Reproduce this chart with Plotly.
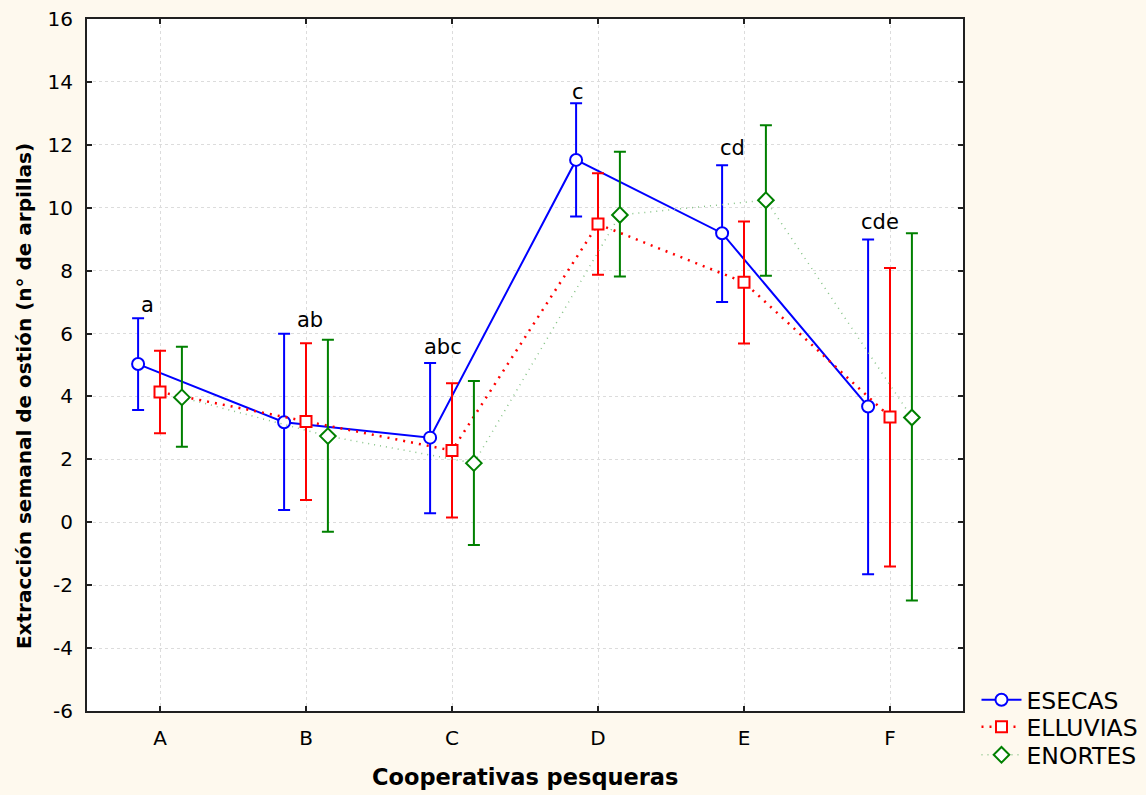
import plotly.graph_objects as go

categories = ["A", "B", "C", "D", "E", "F"]

esecas_mean = [5.03, 3.18, 2.69, 11.52, 9.19, 3.68]
esecas_upper = [6.49, 5.99, 5.06, 13.32, 11.35, 8.99]
esecas_lower = [3.57, 0.39, 0.29, 9.72, 7.00, -1.65]

elluvias_mean = [4.14, 3.20, 2.28, 9.48, 7.63, 3.35]
elluvias_upper = [5.45, 5.69, 4.42, 11.10, 9.56, 8.08]
elluvias_lower = [2.83, 0.71, 0.15, 7.87, 5.68, -1.41]

enortes_mean = [3.97, 2.74, 1.88, 9.77, 10.24, 3.33]
enortes_upper = [5.58, 5.80, 4.49, 11.78, 12.62, 9.19]
enortes_lower = [2.40, -0.30, -0.72, 7.81, 7.84, -2.49]

letters = ["a", "ab", "abc", "c", "cd", "cde"]

y_tickvals = [-6, -4, -2, 0, 2, 4, 6, 8, 10, 12, 14, 16]
y_ticktext = ["-6", "-4", "-2", "0", "2", "4", "6", "8", "10", "12", "14", "16"]

FONT = "DejaVu Sans, Liberation Sans, Arial, sans-serif"

series = [
    ("ESECAS", esecas_mean, esecas_upper, esecas_lower, -0.15,
     dict(color="#0000FF", width=2, dash="solid"), "#0000FF", "circle", 12, "legend"),
    ("ELLUVIAS", elluvias_mean, elluvias_upper, elluvias_lower, 0.0,
     dict(color="#FF0000", width=2.5, dash="2px,6px"), "#FF0000", "square", 11, "legend2"),
    ("ENORTES", enortes_mean, enortes_upper, enortes_lower, 0.15,
     dict(color="#88C488", width=1.5, dash="1px,5px"), "#008000", "diamond", 12, "legend3"),
]

fig = go.Figure()
for name, mean, up, lo, off, line, col, sym, size, leg in series:
    xs = [i + off for i in range(len(categories))]
    fig.add_trace(go.Scatter(
        x=xs, y=mean, name=name, mode="lines+markers", legend=leg,
        line=line,
        marker=dict(symbol=sym, size=size, color="white",
                    line=dict(color=col, width=2)),
        error_y=dict(type="data", symmetric=False,
                     array=[u - m for u, m in zip(up, mean)],
                     arrayminus=[m - l for m, l in zip(mean, lo)],
                     color=col, thickness=2, width=6),
    ))

# letter annotations above ESECAS upper whiskers
letter_dx = [0.064, 0.18, 0.085, 0.01, 0.068, 0.08]
letter_dy = [-1, 0, 2, -3, 3, 4]
for i, (txt, dx, dy) in enumerate(zip(letters, letter_dx, letter_dy)):
    fig.add_annotation(x=i - 0.15 + dx, y=esecas_upper[i], text=txt,
                       showarrow=False, xanchor="center", yanchor="bottom",
                       yshift=dy, font=dict(family=FONT, size=21, color="black"))

fig.add_annotation(x=-0.072, y=0.455, xref="paper", yref="paper",
                   text="<b>Extracción semanal de ostión (n° de arpillas)</b>",
                   textangle=-90, showarrow=False, xanchor="center", yanchor="middle",
                   font=dict(family=FONT, size=20, color="black"))
fig.add_annotation(x=0.5, y=-0.095, xref="paper", yref="paper",
                   text="<b>Cooperativas pesqueras</b>",
                   showarrow=False, xanchor="center", yanchor="middle",
                   font=dict(family=FONT, size=22.5, color="black"))

axis_common = dict(showline=True, linecolor="#202020", linewidth=2, mirror="ticks",
                   ticks="inside", ticklen=5, tickcolor="#202020", tickwidth=1.5,
                   showgrid=True, gridcolor="#dcdcdc", griddash="dot", gridwidth=1,
                   zeroline=False, tickfont=dict(family=FONT, size=20, color="black"))

fig.update_xaxes(range=[-0.5, 5.5], tickmode="array",
                 tickvals=list(range(len(categories))), ticktext=categories,
                 ticklabelstandoff=8, **axis_common)
fig.update_yaxes(range=[-6, 16], tickmode="array", tickvals=y_tickvals,
                 ticktext=y_ticktext, ticklabelstandoff=8, **axis_common)

leg_common = dict(x=1.0154, xanchor="left", yanchor="middle",
                  bgcolor="rgba(0,0,0,0)", itemwidth=40,
                  font=dict(family=FONT, size=23.5, color="black"))

fig.update_layout(
    width=1146, height=795,
    margin=dict(l=87, r=183, t=19, b=84, autoexpand=False),
    paper_bgcolor="#FEF9EE", plot_bgcolor="white",
    font=dict(family=FONT, size=20, color="black"),
    showlegend=True,
    legend=dict(y=0.0159, **leg_common),
    legend2=dict(y=-0.0231, **leg_common),
    legend3=dict(y=-0.0636, **leg_common),
)

fig.write_html("out.html")
